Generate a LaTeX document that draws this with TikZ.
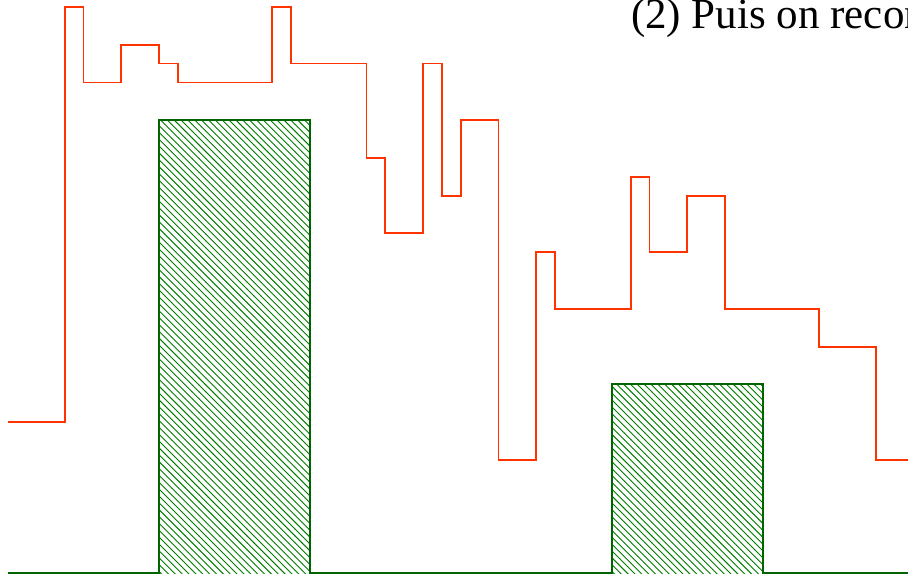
\documentclass[tikz,border=0pt]{standalone}
\usepackage{fontspec}
\setmainfont{Liberation Serif}
\usetikzlibrary{patterns}
\definecolor{rouge}{RGB}{255,51,0}
\definecolor{vertfonce}{RGB}{0,100,0}
\definecolor{verthachure}{RGB}{0,125,0}
\tikzset{
  signal/.style={rouge, line width=0.8pt},
  ligne/.style={vertfonce, line width=0.8pt},
  hachure/.style={pattern=north west lines, pattern color=verthachure}
}
\begin{document}
\begin{tikzpicture}[x=0.29cm, y=0.29cm]
            % Frame
            \useasboundingbox (-0.424,-0.212) rectangle (47.70,30.37);
            \clip (-0.424,-0.212) rectangle (47.70,30.37);

            % Hatched blocks
            \fill[hachure] (8,0) rectangle (16,24);
            \fill[hachure] (32,0) rectangle (40,10);

            % Baseline with blocks
            \draw[ligne] (0,0) -- (8,0) -- (8,24) -- (16,24) -- (16,0)
                -- (32,0) -- (32,10) -- (40,10) -- (40,0) -- (48,0);

            % Step signal
            \draw[signal] (0,8) -| (3,30) -| (4,26) -| (6,28) -| (8,27) -| (9,26)
                -| (14,30) -| (15,27) -| (19,22) -| (20,18) -| (22,27) -| (23,20)
                -| (24,24) -| (26,6) -| (28,17) -| (29,14) -| (33,21) -| (34,17)
                -| (36,20) -| (38,14) -| (43,12) -| (46,6) -- (48,6);

            \node[anchor=base west, inner sep=0pt, font=\fontsize{18.8}{22}\selectfont]
                (etape) at (33.0,28.85) {(2) Puis on recon};
\end{tikzpicture}
\end{document}
